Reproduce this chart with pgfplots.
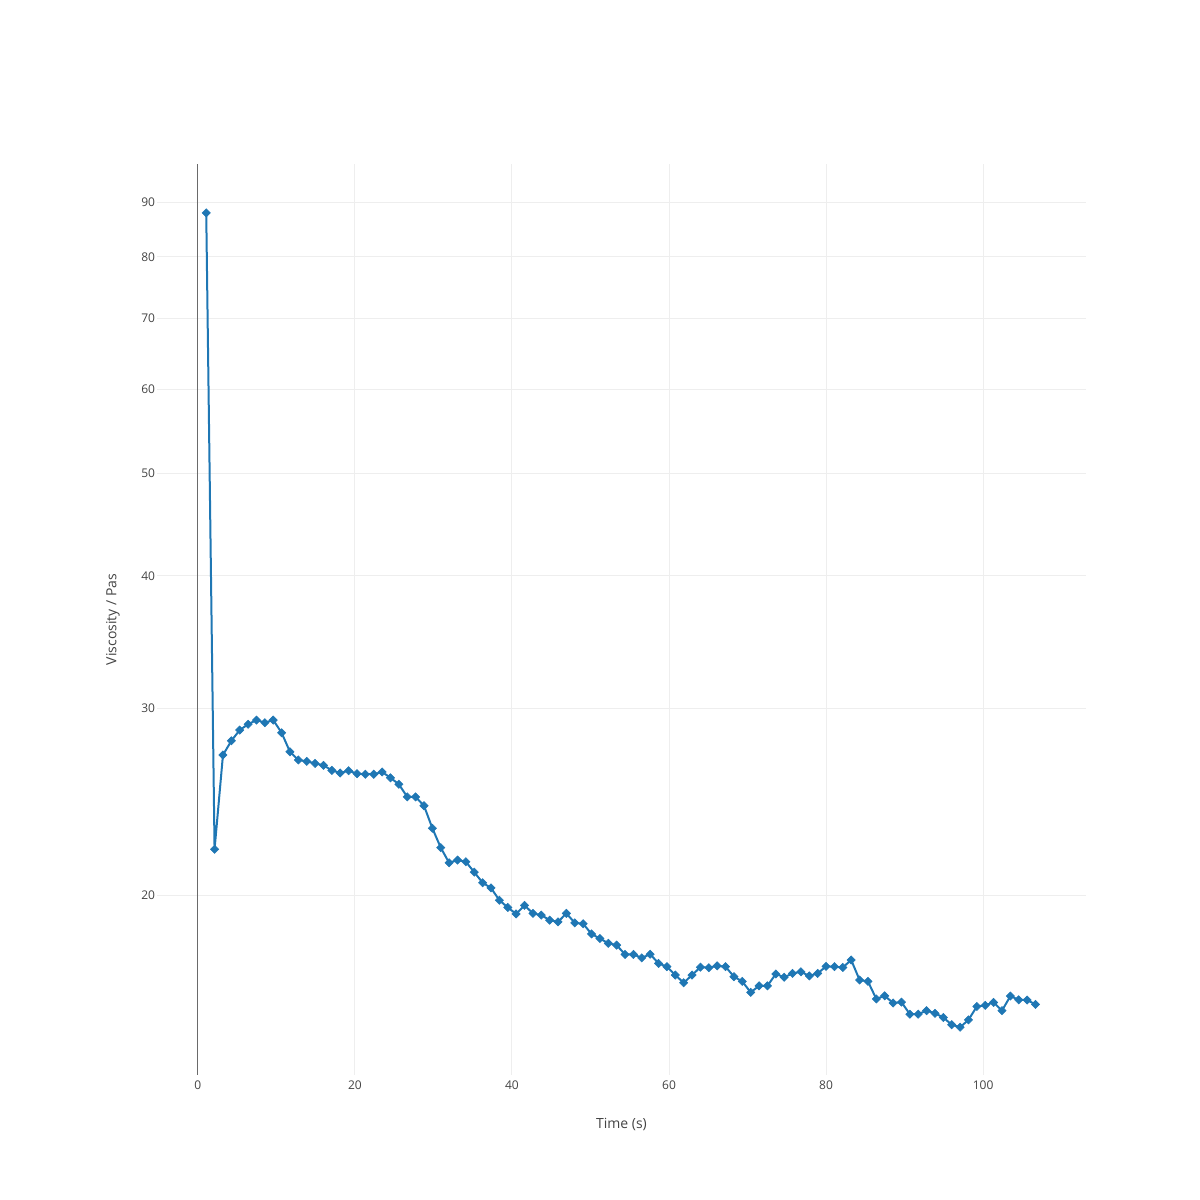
\documentclass[border=0pt]{standalone}
\usepackage{fontspec}
\setmainfont{Open Sans}
\usepackage{pgfplots}
\pgfplotsset{compat=1.18}
\definecolor{plotblue}{HTML}{1F77B4}
\definecolor{labelgray}{HTML}{444444}
\definecolor{zerogray}{HTML}{6A6A6A}
\definecolor{gridgray}{HTML}{EEEEEE}
\begin{document}
\begin{tikzpicture}
\path[use as bounding box] (0,0) rectangle (600pt,600pt);
\begin{axis}[
    at={(78.5pt,62.5pt)}, anchor=south west,
    scale only axis,
    width=464.5pt, height=455.5pt,
    xmin=-5.2, xmax=113.1,
    ymode=log,
    ymin=13.53, ymax=97.87,
    xtick={0,20,40,60,80,100},
    ytick={20,30,40,50,60,70,80,90},
    yticklabels={20,30,40,50,60,70,80,90},
    extra x ticks={0},
    extra x tick labels={},
    extra x tick style={grid style={color=zerogray, line width=0.6pt}},
    grid=major,
    grid style={color=gridgray, line width=0.5pt},
    axis line style={draw=none},
    major tick length=0pt,
    /pgf/number format/assume math mode=true,
    tick label style={font=\fontsize{6}{7}\selectfont, text=labelgray},
    yticklabel style={inner sep=0.8pt},
    xticklabel style={inner sep=2.5pt},
    label style={font=\fontsize{7}{8}\selectfont, text=labelgray},
    xlabel={Time (s)},
    ylabel={Viscosity / Pas},
    xlabel style={at={(axis description cs:0.5,-0.0538)}, anchor=center},
    ylabel style={at={(axis description cs:-0.0474,0.5)}, anchor=center},
]
\addplot[color=plotblue, line width=1pt, mark=square*, mark size=1.45pt,
    mark options={rotate=45, fill=plotblue, draw=plotblue, line width=0.3pt}]
coordinates {
(1.07,88.0) (2.13,22.09) (3.20,27.11) (4.27,27.96) (5.33,28.62)
(6.40,28.98) (7.47,29.25) (8.53,29.08) (9.60,29.25) (10.67,28.45)
(11.73,27.30) (12.80,26.82) (13.87,26.74) (14.93,26.62) (16.00,26.51)
(17.07,26.22) (18.13,26.07) (19.20,26.20) (20.27,26.03) (21.33,26.00)
(22.40,26.00) (23.47,26.13) (24.53,25.80) (25.60,25.44) (26.67,24.75)
(27.73,24.75) (28.80,24.28) (29.87,23.12) (30.93,22.17) (32.00,21.45)
(33.07,21.58) (34.13,21.50) (35.20,21.02) (36.27,20.54) (37.33,20.31)
(38.40,19.78) (39.47,19.47) (40.53,19.20) (41.60,19.56) (42.67,19.22)
(43.73,19.15) (44.80,18.94) (45.87,18.87) (46.93,19.22) (48.00,18.83)
(49.07,18.79) (50.13,18.38) (51.20,18.20) (52.27,18.01) (53.33,17.94)
(54.40,17.58) (55.47,17.58) (56.53,17.45) (57.60,17.59) (58.67,17.24)
(59.73,17.12) (60.80,16.81) (61.87,16.53) (62.93,16.81) (64.00,17.10)
(65.07,17.08) (66.13,17.15) (67.20,17.12) (68.27,16.75) (69.33,16.58)
(70.40,16.19) (71.47,16.42) (72.53,16.42) (73.60,16.85) (74.67,16.73)
(75.73,16.87) (76.80,16.93) (77.87,16.78) (78.93,16.87) (80.00,17.13)
(81.07,17.12) (82.13,17.09) (83.20,17.37) (84.27,16.63) (85.33,16.58)
(86.40,15.96) (87.47,16.07) (88.53,15.82) (89.60,15.85) (90.67,15.44)
(91.73,15.44) (92.80,15.56) (93.87,15.47) (94.93,15.33) (96.00,15.09)
(97.07,15.01) (98.13,15.25) (99.20,15.70) (100.27,15.74) (101.33,15.84)
(102.40,15.56) (103.47,16.06) (104.53,15.93) (105.60,15.92) (106.67,15.77)
};
\end{axis}
\end{tikzpicture}
\end{document}
